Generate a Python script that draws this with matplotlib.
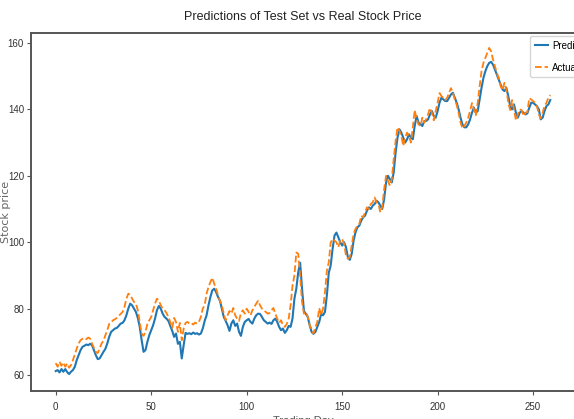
import matplotlib
matplotlib.use("Agg")
import matplotlib.pyplot as plt

title = "Predictions of Test Set vs Real Stock Price"
y_label = "Stock price"
x_label = "Trading Day"
series_names = ["Prediction", "Actual"]

actual = [
    63.6, 62.5, 64.0, 62.8, 63.8, 62.5, 63.5, 62.2, 63.0, 64.5,
    66.3, 68.0, 69.5, 70.5, 70.9, 71.2, 70.8, 71.3, 71.0, 69.5,
    68.2, 67.0, 66.6, 68.0, 69.5, 70.3, 72.0, 73.5, 75.4, 75.8,
    76.5, 76.8, 77.2, 77.8, 78.4, 79.0, 80.5, 83.0, 84.5, 84.2,
    83.0, 82.0, 81.5, 79.5, 76.0, 72.5, 71.8, 73.0, 75.4, 76.5,
    77.5, 79.5, 81.5, 83.0, 82.5, 81.0, 80.0, 79.5, 78.7, 77.5,
    76.0, 74.2, 77.2, 76.0, 73.0, 75.7, 70.5, 74.0, 75.7, 76.0,
    75.5, 75.7, 75.2, 75.8, 75.5, 76.0, 77.5, 80.0, 81.0, 84.5,
    86.5, 88.0, 89.3, 87.5, 86.0, 84.0, 82.4, 81.0, 78.5, 76.5,
    78.0, 79.3, 78.5, 80.2, 78.0, 77.0, 76.3, 78.7, 79.5, 78.5,
    80.0, 79.0, 78.0, 79.5, 80.5, 81.5, 82.4, 81.0, 80.0, 79.5,
    79.0, 78.5, 78.7, 79.5, 80.2, 78.5, 77.0, 75.7, 76.5, 75.0,
    74.5, 75.4, 77.0, 81.0, 86.9, 90.0, 96.9, 96.5, 90.0, 82.0,
    78.5, 79.0, 77.5, 75.0, 73.9, 72.5, 74.5, 76.0, 80.2, 78.0,
    80.0, 85.0, 91.4, 94.0, 99.9, 101.0, 100.5, 100.0, 98.5, 100.5,
    101.0, 99.5, 96.0, 95.0, 95.5, 99.0, 102.5, 104.0, 105.0, 105.5,
    108.0, 107.5, 109.0, 110.5, 110.0, 111.5, 112.0, 113.5, 112.0, 111.5,
    109.0, 110.5, 116.0, 120.0, 118.5, 117.0, 119.0, 125.0, 130.5, 134.6,
    133.5, 132.0, 129.0, 131.5, 133.0, 132.0, 130.0, 134.5, 139.8, 137.0,
    135.5, 135.0, 137.5, 136.0, 137.0, 138.5, 140.4, 139.0, 136.7, 139.5,
    142.0, 144.9, 144.0, 143.5, 142.8, 143.5, 145.0, 146.4, 145.0, 143.0,
    141.3, 139.0, 136.0, 134.3, 135.0, 136.0, 137.5, 139.5, 141.9, 140.0,
    138.2, 142.0, 147.0, 151.5, 154.0, 155.5, 157.0, 158.5, 157.5, 155.0,
    153.0, 151.0, 149.5, 147.0, 145.8, 148.0, 146.0, 142.0, 139.8, 142.8,
    140.0, 136.7, 138.5, 140.0, 139.8, 138.0, 139.0, 139.2, 143.4, 143.0,
    142.5, 142.0, 141.0, 138.5, 137.3, 139.0, 141.0, 142.0, 143.5, 144.3,
]

prediction = [
    61.2, 61.5, 60.8, 61.8, 61.0, 61.8, 60.9, 60.3, 61.0, 61.5,
    62.5, 64.5, 66.0, 67.5, 68.5, 68.8, 69.2, 69.0, 69.4, 69.0,
    67.5, 66.0, 64.8, 65.0, 66.0, 67.0, 67.9, 69.5, 71.5, 73.0,
    73.5, 74.0, 74.2, 74.8, 75.5, 75.7, 76.5, 78.0, 80.0, 81.5,
    81.0, 80.0, 79.0, 77.2, 74.5, 70.5, 67.0, 67.5, 70.0, 72.0,
    73.5, 75.0, 77.0, 79.5, 80.8, 80.0, 78.5, 77.5, 77.0, 76.3,
    74.8, 73.3, 71.5, 72.5, 69.4, 70.0, 65.0, 69.0, 72.7, 72.4,
    72.6, 72.3, 72.8, 72.4, 72.6, 72.2, 72.5, 74.0, 76.3, 78.0,
    81.0, 83.5, 85.5, 86.0, 85.0, 83.5, 82.4, 80.0, 77.5, 76.3,
    75.0, 73.3, 75.5, 76.5, 74.8, 75.5, 73.0, 71.8, 74.5, 76.0,
    76.5, 76.9, 76.0, 75.5, 77.0, 78.0, 78.5, 78.4, 77.5, 76.5,
    76.0, 75.5, 75.8, 75.4, 76.5, 77.0, 76.0, 74.5, 73.5, 74.0,
    72.7, 73.5, 74.8, 74.5, 77.0, 83.0, 86.0, 91.0, 93.8, 86.0,
    79.3, 78.4, 77.5, 75.0, 73.0, 72.4, 73.0, 74.5, 76.0, 78.4,
    78.0, 79.0, 84.0, 90.8, 93.0, 98.0, 102.0, 102.9, 101.5, 100.0,
    99.0, 100.0, 98.5, 95.5, 94.7, 96.5, 100.5, 103.0, 104.5, 105.0,
    106.5, 107.5, 108.0, 109.5, 110.5, 110.0, 111.0, 111.5, 112.5, 112.0,
    111.0, 110.0, 113.0, 118.0, 120.0, 119.0, 118.0, 121.0, 127.0, 131.5,
    134.0, 133.0, 131.5, 130.0, 131.0, 132.5, 131.5, 131.0, 135.0, 138.0,
    136.0, 135.5, 135.0, 136.5, 136.5, 137.0, 138.5, 139.5, 138.0, 137.5,
    139.5, 142.0, 143.5, 143.0, 142.5, 142.5, 143.5, 144.5, 145.0, 143.5,
    142.0, 140.0, 137.5, 135.5, 134.6, 134.6, 135.5, 137.0, 139.0, 140.5,
    139.0, 139.5, 143.0, 146.5, 149.5, 151.5, 153.0, 154.0, 154.3, 153.5,
    152.0, 150.5, 149.0, 147.5, 146.0, 145.5, 146.5, 144.0, 141.0, 140.0,
    141.5, 139.0, 137.5, 139.0, 139.5, 139.0, 138.5, 138.8, 140.5, 142.0,
    142.0, 141.5, 141.0, 140.0, 137.0, 137.5, 139.5, 141.0, 141.5, 142.8,
]

narrow = 'Liberation Sans'

W, H = 574, 419
fig = plt.figure(figsize=(W / 100, H / 100), dpi=100)
ax_left, ax_right, ax_top, ax_bot = 31, 575, 33, 391
ax = fig.add_axes([ax_left / W, (H - ax_bot) / H, (ax_right - ax_left) / W, (ax_bot - ax_top) / H])

days = list(range(len(actual)))
ax.plot(days, prediction, color='#1f77b4', lw=1.5, label=series_names[0])
ax.plot(days, actual, color='#ff7f0e', lw=1.3, ls='--', label=series_names[1])

n = len(actual) - 1
ax.set_xlim(-0.05 * n, n * 1.05)
ax.set_ylim(55.2, 163.0)
ax.set_xticks([0, 50, 100, 150, 200, 250])
ax.set_yticks([60, 80, 100, 120, 140, 160])

for s in ax.spines.values():
    s.set_color('#555555')
    s.set_linewidth(1.4)
ax.tick_params(axis='both', labelsize=7, length=3, color='#555555', labelcolor='#333333')
ax.tick_params(axis='x', pad=5)
ax.tick_params(axis='y', pad=2)
for lab in ax.get_xticklabels() + ax.get_yticklabels():
    lab.set_fontfamily(narrow)

ax.set_title(title, fontsize=9, family=narrow, color='#222222', pad=9)
ax.set_ylabel(y_label, fontsize=8, color='#666666')
ax.yaxis.set_label_coords((11 - ax_left) / (ax_right - ax_left), 0.5)
ax.set_xlabel(x_label, fontsize=8, color='#555555', family=narrow)
ax.xaxis.set_label_coords(0.5, -(416 - ax_bot) / (ax_bot - ax_top))

leg = ax.legend(loc='upper left', bbox_to_anchor=(530 / W, 1 - 36 / H),
                bbox_transform=fig.transFigure,
                prop={'family': narrow, 'size': 7},
                handlelength=1.4, handletextpad=0.4, borderpad=0.5,
                labelspacing=1.2, framealpha=0.8, borderaxespad=0)

fig.savefig("out.png", dpi=100)
